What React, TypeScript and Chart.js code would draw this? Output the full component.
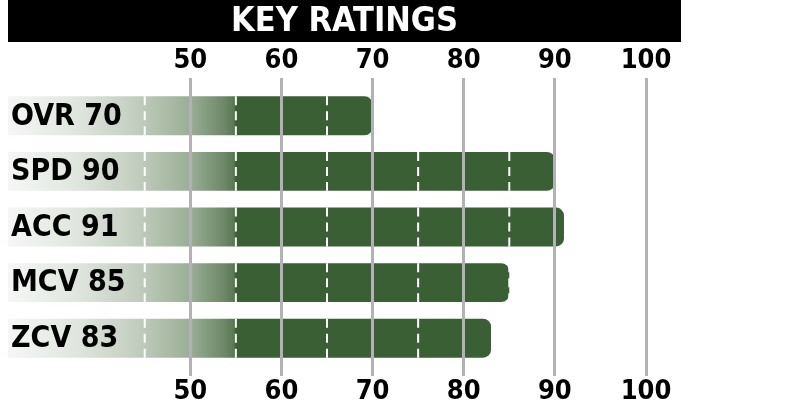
import { useEffect, useRef } from 'react';
import { Chart, registerables } from 'chart.js';

Chart.register(...registerables);

const TITLE = 'KEY RATINGS';
const categories = ['OVR', 'SPD', 'ACC', 'MCV', 'ZCV'];
const ratings = [70, 90, 91, 85, 83];
const axisMin = 30;
const axisMax = 100;
const tickStep = 10;
const firstShownTick = 50;
const dashValues = [45, 55, 65, 75, 85, 95];
const gradientEndValue = 55;

const FONT = "'DejaVu Sans Condensed', 'DejaVu Sans', sans-serif";
const DARK_GREEN = '#3b5f35';
const GRID_GRAY = '#b2b2b4';

const gridColor = (c: any) =>
  c.tick && c.tick.value >= firstShownTick ? GRID_GRAY : 'rgba(0,0,0,0)';
const tickLabel = (v: any) => (Number(v) >= firstShownTick ? String(v) : '');

const decorPlugin = {
  id: 'decor',
  beforeDraw(chart: any) {
    const { ctx } = chart;
    ctx.save();
    ctx.fillStyle = '#000';
    ctx.fillRect(8, 0, 673, 42);
    ctx.fillStyle = '#fff';
    ctx.font = `bold 34px ${FONT}`;
    ctx.textAlign = 'center';
    ctx.textBaseline = 'middle';
    ctx.fillText(TITLE, 344.5, 22);
    ctx.restore();
  },
  afterDatasetsDraw(chart: any) {
    const { ctx } = chart;
    const meta = chart.getDatasetMeta(0);
    const xs = chart.scales.x;
    ctx.save();
    ctx.strokeStyle = '#ffffff';
    ctx.lineWidth = 2;
    ctx.setLineDash([9, 6]);
    meta.data.forEach((bar: any) => {
      const { x, y, base, height } = bar.getProps(['x', 'y', 'base', 'height'], true);
      const top = y - height / 2;
      const bottom = y + height / 2;
      dashValues.forEach((v) => {
        const px = xs.getPixelForValue(v);
        if (px > base && px <= x + 1.5) {
          ctx.beginPath();
          ctx.moveTo(px, top);
          ctx.lineTo(px, bottom);
          ctx.stroke();
        }
      });
    });
    ctx.setLineDash([]);
    ctx.fillStyle = '#000';
    ctx.font = `bold 30px ${FONT}`;
    ctx.textAlign = 'left';
    ctx.textBaseline = 'middle';
    meta.data.forEach((bar: any, i: number) => {
      ctx.fillText(`${categories[i]} ${ratings[i]}`, 11, bar.y + 1);
    });
    ctx.restore();
  },
};

export default function App() {
  const ref = useRef<HTMLCanvasElement>(null);

  useEffect(() => {
    if (!ref.current) return;
    const tickFont = { family: FONT, size: 27, weight: 'bold' as const, lineHeight: 1 };
    const chart = new Chart(ref.current, {
      type: 'bar',
      data: {
        labels: categories,
        datasets: [
          {
            data: ratings,
            backgroundColor: (c: any) => {
              const ch = c.chart;
              if (!ch.chartArea || !ch.scales.x) return DARK_GREEN;
              const xs = ch.scales.x;
              const x0 = xs.getPixelForValue(axisMin);
              const x1 = xs.getPixelForValue(gradientEndValue);
              const g = ch.ctx.createLinearGradient(x0, 0, x1, 0);
              g.addColorStop(0, '#f5f7f5');
              g.addColorStop(0.3, '#e0e6df');
              g.addColorStop(0.55, '#c4cfc1');
              g.addColorStop(0.8, '#9aae95');
              g.addColorStop(0.95, '#6c8866');
              g.addColorStop(0.99, '#5a7953');
              g.addColorStop(1, DARK_GREEN);
              return g;
            },
            borderRadius: 8,
            borderSkipped: 'start',
            barPercentage: 0.7,
            categoryPercentage: 1,
          },
        ],
      },
      options: {
        indexAxis: 'y',
        responsive: false,
        animation: false,
        devicePixelRatio: 1,
        events: [],
        layout: { padding: { left: 8, right: 140, top: 43, bottom: 8 } },
        plugins: {
          legend: { display: false },
          tooltip: { enabled: false },
          title: { display: false },
        },
        scales: {
          y: { display: false },
          x: {
            type: 'linear',
            position: 'bottom',
            min: axisMin,
            max: axisMax,
            grid: { color: gridColor, lineWidth: 3, tickLength: 10, drawOnChartArea: true, z: 1 },
            border: { display: false },
            ticks: {
              stepSize: tickStep,
              callback: tickLabel,
              font: tickFont,
              color: '#000',
              padding: 2,
              maxRotation: 0,
              autoSkip: false,
            },
          },
          x2: {
            type: 'linear',
            position: 'top',
            min: axisMin,
            max: axisMax,
            grid: { color: gridColor, lineWidth: 3, tickLength: 10, drawOnChartArea: false, z: 1 },
            border: { display: false },
            ticks: {
              stepSize: tickStep,
              callback: tickLabel,
              font: tickFont,
              color: '#000',
              padding: 4,
              maxRotation: 0,
              autoSkip: false,
            },
          },
        },
      },
      plugins: [decorPlugin],
    });
    return () => chart.destroy();
  }, []);

  return (
    <canvas
      ref={ref}
      width={786}
      height={415}
      style={{ position: 'fixed', left: 0, top: 0, display: 'block' }}
    />
  );
}
